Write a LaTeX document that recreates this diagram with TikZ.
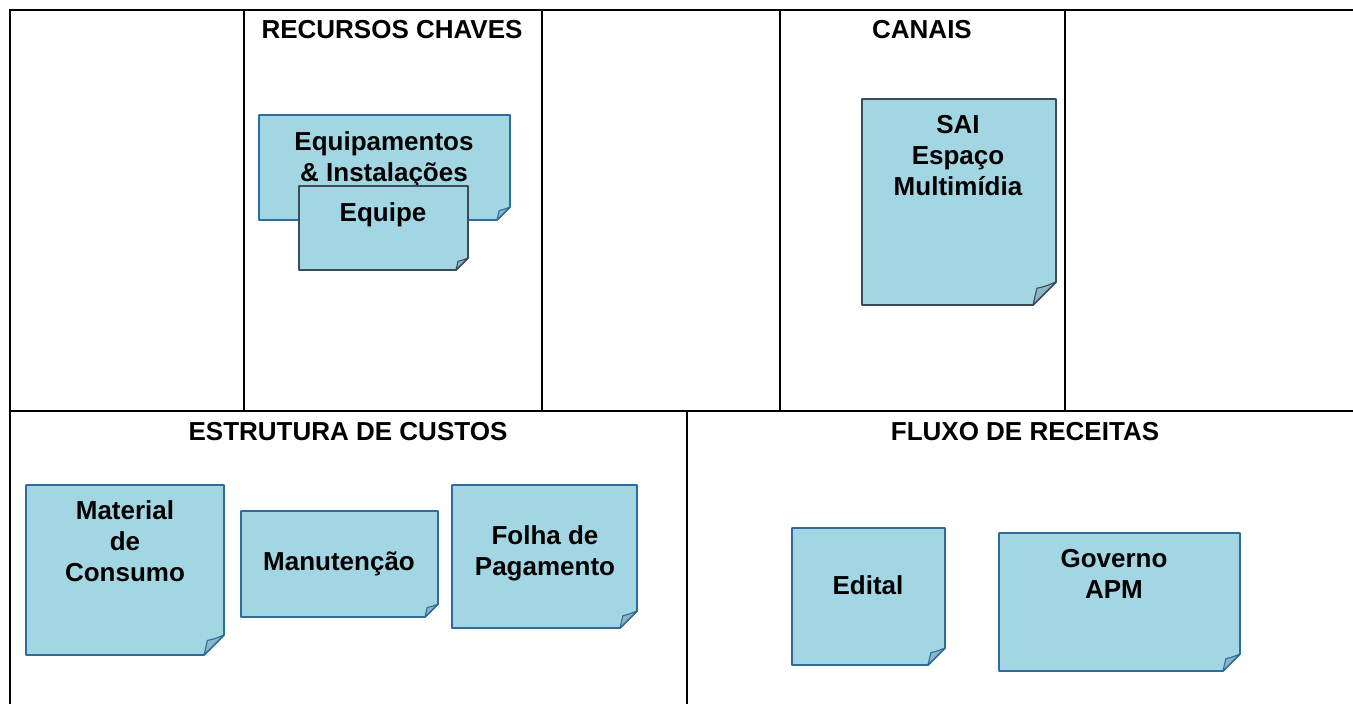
\documentclass[tikz,border=0pt]{standalone}
\usepackage{fontspec}
\setmainfont{Liberation Sans}
\usetikzlibrary{positioning}

\definecolor{notefill}{HTML}{A3D6E3}
\definecolor{noteline}{HTML}{2F6D98}
\definecolor{notefold}{HTML}{8CB6C8}
\definecolor{darkline}{HTML}{3D4B59}

\tikzset{
  gridline/.style={line width=2.6pt, black, line cap=rect},
  heading/.style={font=\fontsize{26}{31}\selectfont\bfseries, inner sep=0pt},
  notetext/.style={font=\fontsize{26}{31}\selectfont\bfseries, align=center, inner sep=0pt, anchor=north},
}

% sticky note: {x1}{y1}{x2}{y2}{corner}{border}
\newcommand{\postit}[6]{%
  \filldraw[fill=notefill, draw=#6, line width=1.8pt, line join=round]
    (#1,#2) -- (#3,#2) -- (#3,#4-#5) -- (#3-#5,#4) -- (#1,#4) -- cycle;
  \filldraw[fill=notefold, draw=#6, line width=1.1pt, line join=round]
    (#3,#4-#5) .. controls (#3-0.5*#5,#4-0.8*#5) .. (#3-0.83*#5,#4-0.73*#5) -- (#3-#5,#4) -- cycle;
}

\begin{document}
\begin{tikzpicture}[x=1pt,y=-1pt]
\useasboundingbox (0,0) rectangle (1353,704);

% table
\draw[gridline] (10,10) -- (1353,10);
\draw[gridline] (10,10) -- (10,704);
\draw[gridline] (10,411) -- (1353,411);
\foreach \xx in {244,542,780,1065}
  \draw[gridline] (\xx,10) -- (\xx,411);
\draw[gridline] (687,411) -- (687,704);

% headings
\node[heading] (recursos) at (392,30) {RECURSOS CHAVES};
\node[heading] (canais) at (922,30) {CANAIS};
\node[heading] (custos) at (348,432) {ESTRUTURA DE CUSTOS};
\node[heading] (receitas) at (1025,432) {FLUXO DE RECEITAS};

% recursos chaves
\postit{259}{115}{510}{220}{13}{noteline}
\node[notetext] (equipamentos) at (384,131) {Equipamentos\\\& Instalações};
\postit{299}{186}{468}{270}{12}{darkline}
\node[notetext] (equipe) at (383,202) {Equipe};

% canais
\postit{862}{99}{1056}{305}{23}{darkline}
\node[notetext] (sai) at (958,115) {SAI\\Espaço\\Multimídia};

% estrutura de custos
\postit{26}{485}{224}{655}{20}{noteline}
\node[notetext] (material) at (125,500) {Material\\de\\Consumo};
\postit{241}{511}{438}{617}{13}{noteline}
\node[notetext] (manutencao) at (339,552) {Manutenção};
\postit{452}{485}{637}{628}{17}{noteline}
\node[notetext] (folha) at (545,525) {Folha de\\Pagamento};

% fluxo de receitas
\postit{792}{528}{945}{665}{17}{noteline}
\node[notetext] (edital) at (868,575) {Edital};
\postit{999}{533}{1240}{671}{17}{noteline}
\node[notetext] (governo) at (1114,549) {Governo\\APM};
\end{tikzpicture}
\end{document}
